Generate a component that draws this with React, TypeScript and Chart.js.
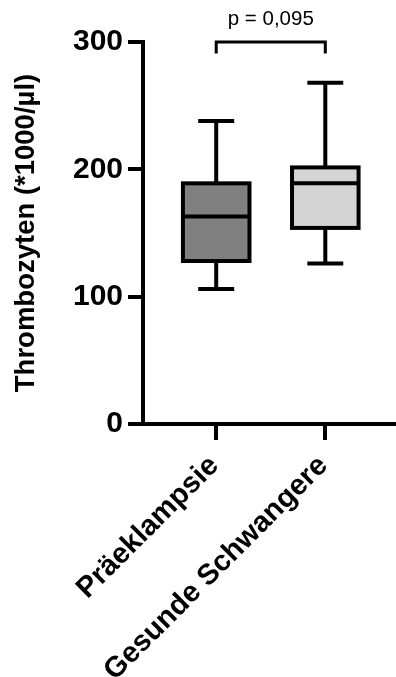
import { useEffect, useRef } from 'react';
import { Chart, registerables } from 'chart.js';

Chart.register(...registerables);

// Platelet counts per group (box plot summary, x1000/µl)
const groups = ['Präeklampsie', 'Gesunde Schwangere'];
const whiskerLow = [106, 126];
const quartile1 = [128, 154];
const medians = [163, 189];
const quartile3 = [189, 201.5];
const whiskerHigh = [238, 268];
const boxFills = ['#808080', '#d4d4d4'];
const yTicks = [0, 100, 200, 300];
const pLabel = 'p = 0,095';
const bracketLevel = 300;
const bracketLeg = 291;
const yTitle = 'Thrombozyten (*1000/µl)';

const FONT = '"Liberation Sans", Arial, Helvetica, sans-serif';

const boxPlotPlugin = {
  id: 'boxPlot',
  afterDatasetsDraw(chart: any) {
    const ctx = chart.ctx;
    const xs = chart.scales.x;
    const ys = chart.scales.y;
    const meta = chart.getDatasetMeta(0);
    ctx.save();
    ctx.strokeStyle = '#000';
    ctx.lineWidth = 4;
    ctx.lineCap = 'butt';
    groups.forEach((_, i) => {
      const bar = meta.data[i];
      const cx = xs.getPixelForValue(i + 1);
      const half = bar.width / 2;
      const capHalf = half * 0.54;
      const yQ1 = ys.getPixelForValue(quartile1[i]);
      const yQ3 = ys.getPixelForValue(quartile3[i]);
      const yMed = ys.getPixelForValue(medians[i]);
      const yLo = ys.getPixelForValue(whiskerLow[i]);
      const yHi = ys.getPixelForValue(whiskerHigh[i]);
      ctx.beginPath();
      // whiskers
      ctx.moveTo(cx, yQ3);
      ctx.lineTo(cx, yHi);
      ctx.moveTo(cx, yQ1);
      ctx.lineTo(cx, yLo);
      // caps
      ctx.moveTo(cx - capHalf, yHi);
      ctx.lineTo(cx + capHalf, yHi);
      ctx.moveTo(cx - capHalf, yLo);
      ctx.lineTo(cx + capHalf, yLo);
      // median
      ctx.moveTo(cx - half, yMed);
      ctx.lineTo(cx + half, yMed);
      ctx.stroke();
      // box outline
      ctx.strokeRect(cx - half, yQ3, half * 2, yQ1 - yQ3);
    });
    ctx.restore();
  },
  afterDraw(chart: any) {
    const ctx = chart.ctx;
    const xs = chart.scales.x;
    const ys = chart.scales.y;
    const x1 = xs.getPixelForValue(1);
    const x2 = xs.getPixelForValue(2);
    const yb = ys.getPixelForValue(bracketLevel);
    const yl = ys.getPixelForValue(bracketLeg);
    ctx.save();
    ctx.strokeStyle = '#000';
    ctx.lineWidth = 3;
    ctx.beginPath();
    ctx.moveTo(x1, yl);
    ctx.lineTo(x1, yb);
    ctx.lineTo(x2, yb);
    ctx.lineTo(x2, yl);
    ctx.stroke();
    ctx.fillStyle = '#000';
    ctx.font = `20.5px ${FONT}`;
    ctx.textAlign = 'center';
    ctx.textBaseline = 'alphabetic';
    ctx.fillText(pLabel, (x1 + x2) / 2, yb - 17);
    ctx.restore();
  },
};

export default function App() {
  const canvasRef = useRef<HTMLCanvasElement | null>(null);

  useEffect(() => {
    const canvas = canvasRef.current;
    if (!canvas) return;
    const chart = new Chart(canvas, {
      type: 'bar',
      data: {
        datasets: [
          {
            data: groups.map((_, i) => ({ x: i + 1, y: [quartile1[i], quartile3[i]] })) as any,
            backgroundColor: boxFills,
            borderWidth: 0,
            categoryPercentage: 1,
            barPercentage: 0.61,
          },
        ],
      },
      options: {
        animation: false,
        responsive: false,
        devicePixelRatio: 1,
        layout: { padding: { top: 42, right: 0, bottom: 0, left: 0 } },
        plugins: {
          legend: { display: false },
          tooltip: { enabled: false },
        },
        scales: {
          x: {
            type: 'linear',
            offset: false,
            min: 0.329,
            max: 2.648,
            afterBuildTicks: (scale: any) => {
              scale.ticks = groups.map((_, i) => ({ value: i + 1 }));
            },
            afterFit: (scale: any) => {
              scale.height = 253;
            },
            ticks: {
              callback: (v: any) => groups[Math.round(Number(v)) - 1] ?? '',
              minRotation: 45,
              maxRotation: 45,
              autoSkip: false,
              padding: 9,
              labelOffset: -2,
              color: '#000',
              font: { family: FONT, size: 29, weight: 'bold' },
            },
            grid: {
              offset: false,
              drawOnChartArea: false,
              drawTicks: true,
              tickLength: 16,
              lineWidth: 4,
              color: '#000',
            },
            border: { display: true, width: 4, color: '#000' },
          },
          y: {
            min: 0,
            max: 300,
            afterBuildTicks: (scale: any) => {
              scale.ticks = yTicks.map((v) => ({ value: v }));
            },
            afterFit: (scale: any) => {
              scale.width = 143;
            },
            ticks: {
              padding: 5,
              color: '#000',
              font: { family: FONT, size: 30, weight: 'bold' },
            },
            grid: {
              drawOnChartArea: false,
              drawTicks: true,
              tickLength: 15,
              lineWidth: 4,
              color: '#000',
            },
            border: { display: true, width: 4, color: '#000' },
            title: {
              display: true,
              text: yTitle,
              color: '#000',
              padding: { top: 10, bottom: 0 },
              font: { family: FONT, size: 27.5, weight: 'bold' },
            },
          },
        },
      },
      plugins: [boxPlotPlugin],
    });
    return () => chart.destroy();
  }, []);

  return (
    <div style={{ position: 'absolute', left: 0, top: 0, width: 396, height: 677, background: '#fff' }}>
      <canvas ref={canvasRef} width={396} height={677} />
    </div>
  );
}
